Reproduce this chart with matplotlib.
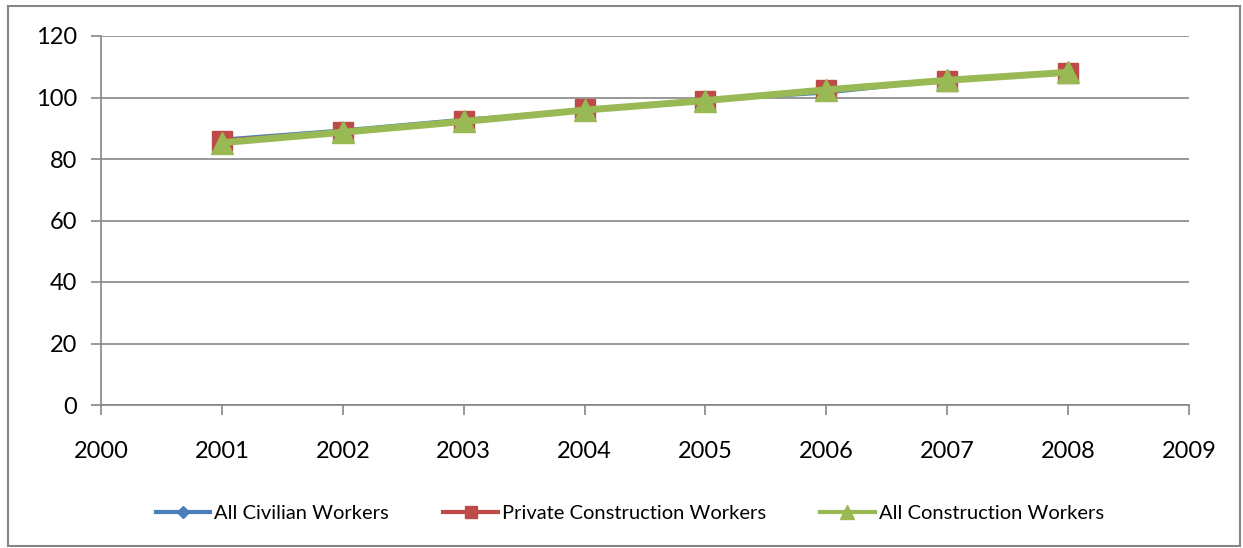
import matplotlib.pyplot as plt
from matplotlib.patches import Rectangle

years = [2001, 2002, 2003, 2004, 2005, 2006, 2007, 2008]
civilian = [86.5, 89.5, 93.0, 95.8, 99.0, 101.4, 105.5, 108.0]
private_constr = [86.0, 88.8, 92.4, 96.2, 98.9, 102.4, 105.5, 108.1]
all_constr = [85.3, 88.7, 92.2, 95.9, 99.0, 102.5, 105.6, 108.2]
labels = ["All Civilian Workers", "Private Construction Workers", "All Construction Workers"]

plt.rcParams['font.family'] = ['Lato', 'DejaVu Sans']

fig = plt.figure(figsize=(12.43, 5.48), dpi=100)
ax = fig.add_axes([101 / 1243, 1 - 405 / 548, (1189 - 101) / 1243, (405 - 36) / 548])

# outer chart frame
fig.patches.append(Rectangle((8 / 1243, 2 / 548), 1232 / 1243, 540 / 548,
                             transform=fig.transFigure, fill=False,
                             edgecolor='#868686', linewidth=1.5))

ax.plot(years, civilian, color='#4a7ebb', linewidth=2, marker='D', markersize=6,
        label=labels[0], zorder=3)
ax.plot(years, private_constr, color='#be4b48', linewidth=3, marker='s', markersize=14,
        label=labels[1], zorder=4)
ax.plot(years, all_constr, color='#98b954', linewidth=5, marker='^', markersize=16,
        label=labels[2], zorder=5)

ax.set_xlim(2000, 2009)
ax.set_ylim(0, 120)
ax.set_xticks(range(2000, 2010))
ax.set_yticks(range(0, 121, 20))
ax.yaxis.grid(True, color='#868686', linewidth=1.2)
ax.set_axisbelow(True)
for s in ['top', 'right']:
    ax.spines[s].set_visible(False)
for s in ['left', 'bottom']:
    ax.spines[s].set_color('#868686')
    ax.spines[s].set_linewidth(1.2)
ax.tick_params(axis='both', direction='out', color='#868686', length=7, width=1.2,
               labelsize=17)
ax.tick_params(axis='x', pad=19)
ax.tick_params(axis='y', pad=10)

leg = ax.legend(loc='center', bbox_to_anchor=(0.486, -0.293), ncol=3, frameon=False,
                fontsize=14.5, handlelength=2.7, columnspacing=2.7, handletextpad=0.2)
for ln, ms in zip(leg.get_lines(), [6, 9, 10]):
    ln.set_linewidth(3)
    ln.set_markersize(ms)

fig.savefig('out.png', dpi=100)
